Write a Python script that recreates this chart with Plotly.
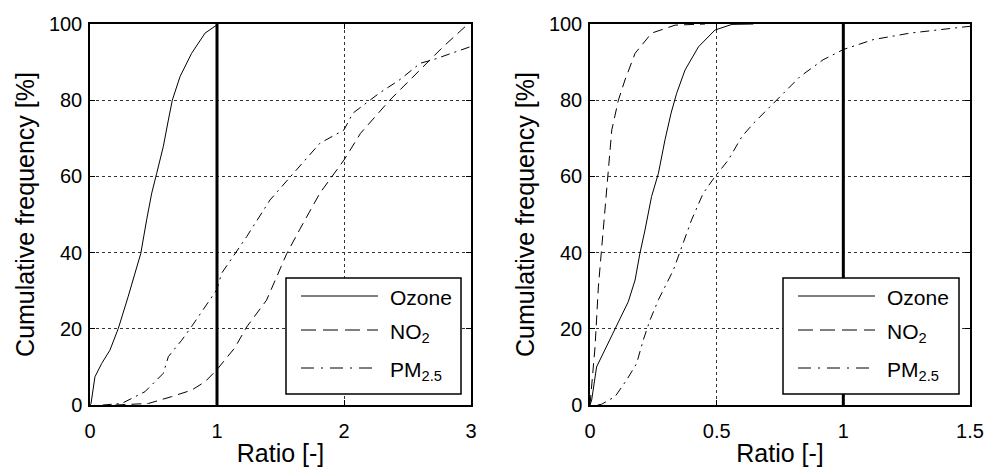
import plotly.graph_objects as go

# ---- Left panel data (Ratio vs cumulative frequency %) ----
L_ozone_x = [0, 0.008, 0.039, 0.092, 0.157, 0.223, 0.30, 0.354, 0.40, 0.446, 0.486, 0.525, 0.577, 0.617, 0.648, 0.709, 0.80, 0.906, 0.997]
L_ozone_y = [0, 0.4, 7.4, 10.9, 14.4, 20.1, 28.4, 34.6, 39.8, 48.6, 55.6, 60.8, 67.8, 74.8, 80, 86.2, 92.3, 97.6, 99.7]
L_no2_x = [0.2, 0.46, 0.643, 0.80, 0.906, 1.0, 1.14, 1.234, 1.39, 1.55, 1.65, 1.81, 2.0, 2.13, 2.36, 2.57, 2.78, 2.97]
L_no2_y = [0, 0.4, 2.2, 3.9, 6.1, 9.3, 15, 20.5, 27.5, 39.8, 46, 55.6, 64.3, 71.3, 80, 87, 94, 99.8]
L_pm_x = [0.1, 0.25, 0.433, 0.577, 0.617, 0.722, 0.80, 0.89, 0.997, 1.037, 1.14, 1.234, 1.417, 1.6, 1.81, 2.0, 2.07, 2.28, 2.44, 2.6, 2.7, 3.0]
L_pm_y = [0, 0.4, 3.5, 8.3, 12.7, 17, 20.6, 24.9, 30.2, 34.6, 39.8, 44.2, 53.8, 60.8, 68.7, 72.2, 76.6, 81.9, 85.4, 89.7, 90.6, 94.1]

# ---- Right panel data ----
R_ozone_x = [0, 0.0066, 0.026, 0.059, 0.099, 0.151, 0.178, 0.197, 0.217, 0.243, 0.27, 0.296, 0.32, 0.342, 0.375, 0.428, 0.493, 0.56, 0.645]
R_ozone_y = [0, 1.3, 10, 14.4, 20.1, 27.1, 32.8, 39.8, 45.9, 54.7, 60.8, 69.6, 76.6, 81.8, 87.9, 94, 98.4, 99.9, 100]
R_no2_x = [0, 0.0066, 0.02, 0.033, 0.046, 0.059, 0.072, 0.086, 0.112, 0.138, 0.178, 0.243, 0.336, 0.454]
R_no2_y = [0, 4.8, 15.3, 31, 41.5, 52, 60.8, 72.2, 80, 85.3, 92.3, 97.6, 99.7, 100]
R_pm_x = [0.03, 0.046, 0.099, 0.145, 0.184, 0.21, 0.237, 0.27, 0.329, 0.362, 0.401, 0.447, 0.493, 0.546, 0.599, 0.645, 0.724, 0.829, 0.92, 1.0, 1.118, 1.263, 1.38, 1.5]
R_pm_y = [0, 0.2, 2.2, 6.6, 10.9, 17, 22.3, 27.6, 35.4, 41.5, 48.6, 55.6, 59.9, 64.3, 70.4, 73.9, 79.2, 86.2, 90.6, 93.3, 95.9, 97.6, 98.5, 99.4]

ref_x = [1, 1]
ref_y = [0, 100]

names = ["Ozone", "NO<sub>2</sub>", "PM<sub>2.5</sub>"]
curve_dashes = ["solid", "10px,6px", "9px,5px,2px,5px"]
legend_dashes = ["solid", "15px,7px", "13px,7px,2px,7px"]

FONT = "Liberation Sans"
W, H = 985, 470

fig = go.Figure()

panels = [
    ([L_ozone_x, L_no2_x, L_pm_x], [L_ozone_y, L_no2_y, L_pm_y], "x", "y"),
    ([R_ozone_x, R_no2_x, R_pm_x], [R_ozone_y, R_no2_y, R_pm_y], "x2", "y2"),
]
for xs, ys, xa, ya in panels:
    fig.add_trace(go.Scatter(x=ref_x, y=ref_y, mode="lines", xaxis=xa, yaxis=ya,
                             line=dict(color="black", width=3), showlegend=False,
                             hoverinfo="skip"))
    for x, y, nm, d in zip(xs, ys, names, curve_dashes):
        fig.add_trace(go.Scatter(x=x, y=y, mode="lines", name=nm, xaxis=xa, yaxis=ya,
                                 showlegend=False,
                                 line=dict(color="black", width=1, dash=d)))

y_dom = [1 - 405 / H, 1 - 24 / H]


def axis(standoff, **kw):
    d = dict(showline=True, linecolor="black", linewidth=1.5, mirror="ticks",
             ticks="inside", ticklen=5, tickcolor="black", ticklabelstandoff=standoff,
             showgrid=True, gridcolor="#333", gridwidth=1, griddash="dot",
             zeroline=False, automargin=False,
             tickfont=dict(family=FONT, size=20, color="black"))
    d.update(kw)
    return d


def title(text, standoff):
    return dict(text=text, standoff=standoff,
                font=dict(family=FONT, size=25, color="black"))


fig.update_layout(
    width=W, height=H, margin=dict(l=0, r=0, t=0, b=0, autoexpand=False),
    paper_bgcolor="white", plot_bgcolor="white", showlegend=False,
    font=dict(family=FONT, color="black"),
    xaxis=axis(7, domain=[90 / W, 471 / W], range=[0, 3], dtick=1, anchor="y",
               title=title("Ratio [-]", 4)),
    yaxis=axis(2, domain=y_dom, range=[0, 100], dtick=20, anchor="x",
               title=title("Cumulative frequency [%]", 7)),
    xaxis2=axis(7, domain=[590 / W, 970 / W], range=[0, 1.5], dtick=0.5, anchor="y2",
                title=title("Ratio [-]", 4)),
    yaxis2=axis(2, domain=y_dom, range=[0, 100], dtick=20, anchor="x2",
                title=title("Cumulative frequency [%]", 7)),
)

# ---- hand-drawn legends (MATLAB style with long line samples) ----
legend_boxes = [(286, 461), (783, 959)]
box_top, box_bot = 278, 394
row_line_y = [296, 330, 368]
row_text_y = [297, 333, 371]
shapes = []
annotations = []
for bx0, bx1 in legend_boxes:
    shapes.append(dict(type="rect", xref="paper", yref="paper", layer="above",
                       x0=bx0 / W, x1=bx1 / W, y0=1 - box_bot / H, y1=1 - box_top / H,
                       fillcolor="white", line=dict(color="black", width=1.5)))
    for ly, ty, nm, d in zip(row_line_y, row_text_y, names, legend_dashes):
        shapes.append(dict(type="line", xref="paper", yref="paper", layer="above",
                           x0=(bx0 + 15) / W, x1=(bx0 + 92) / W,
                           y0=1 - ly / H, y1=1 - ly / H,
                           line=dict(color="black", width=1, dash=d)))
        annotations.append(dict(xref="paper", yref="paper", x=(bx0 + 102) / W,
                                y=1 - ty / H, xanchor="left", yanchor="middle",
                                text=nm, showarrow=False,
                                font=dict(family=FONT, size=21, color="black")))

fig.update_layout(shapes=shapes, annotations=annotations)

fig.write_html("out.html")
